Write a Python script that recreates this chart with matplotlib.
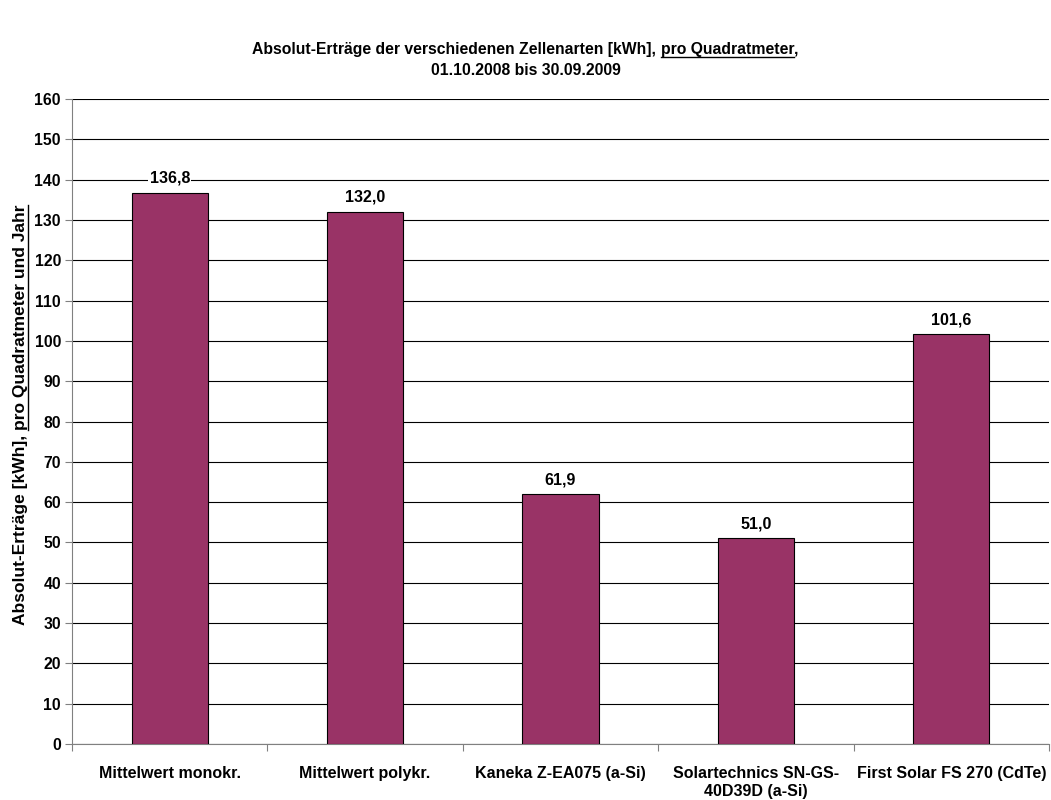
import matplotlib
matplotlib.use("Agg")
import matplotlib.pyplot as plt
import numpy as np
from matplotlib.lines import Line2D

# data
categories = ["Mittelwert monokr.", "Mittelwert polykr.", "Kaneka Z-EA075 (a-Si)",
              "Solartechnics SN-GS-\n40D39D (a-Si)", "First Solar FS 270 (CdTe)"]
values = [136.8, 132.0, 61.9, 51.0, 101.6]
labels = ["136,8", "132,0", "61,9", "51,0", "101,6"]
yticks = list(range(0, 161, 10))

title_parts = ["Absolut-Erträge der verschiedenen Zellenarten [kWh], ", "pro Quadratmeter", ","]
title_line2 = "01.10.2008 bis 30.09.2009"
ylabel_parts = ["Absolut-Erträge [kWh], ", "pro Quadratmeter und Jahr"]

plt.rcParams['font.family'] = ['Liberation Sans', 'DejaVu Sans']
plt.rcParams['font.weight'] = 'bold'
plt.rcParams['font.size'] = 11.3

W, H = 1051, 800
fig = plt.figure(figsize=(W / 100, H / 100), dpi=100)
ax = fig.add_axes([72 / W, 1 - 744 / H, (1049 - 72) / W, (744 - 99) / H])

x = np.arange(len(categories))
ax.bar(x, values, width=0.39, color="#993366", edgecolor="black", linewidth=0.8, zorder=3)
for xi, v, lab in zip(x, values, labels):
    ax.annotate(lab, (xi, v), xytext=(0, 5), textcoords="offset points",
                ha="center", va="bottom", fontweight="bold", fontsize=11.5,
                bbox=dict(facecolor="white", edgecolor="none", pad=1), zorder=4)

ax.set_xlim(-0.5, len(categories) - 0.5)
ax.set_ylim(0, 160)
ax.set_yticks(yticks)
ax.yaxis.grid(True, color="black", linewidth=0.8, zorder=0)
ax.set_axisbelow(True)

# category ticks between groups, labels centered
ax.set_xticks(np.arange(len(categories) + 1) - 0.5)
ax.set_xticklabels([])
ax.set_xticks(x, minor=True)
ax.set_xticklabels(categories, minor=True, fontweight="bold", fontsize=11.5)
ax.tick_params(axis="x", which="minor", length=0, pad=16)
ax.tick_params(axis="x", which="major", length=5, color="#808080", direction="out")
ax.tick_params(axis="y", length=5, color="#808080", direction="out", pad=3, labelsize=11.3)
for lab in ax.get_yticklabels():
    lab.set_fontweight("bold")

ax.spines["top"].set_visible(False)
ax.spines["right"].set_visible(False)
ax.spines["left"].set_color("#808080")
ax.spines["bottom"].set_color("#808080")

fig.canvas.draw()
renderer = fig.canvas.get_renderer()


def px(t):
    return t.get_window_extent(renderer)


# title line 1 with underlined piece
texts = [fig.text(0, 0, p, transform=None, fontweight="bold", fontsize=11.3,
                  ha="left", va="baseline") for p in title_parts]
widths = [px(t).width for t in texts]
x0 = W / 2 - sum(widths) / 2
base_y = H - 54
for t, w in zip(texts, widths):
    t.set_position((x0, base_y))
    x0 += w
bb = px(texts[1])
fig.add_artist(Line2D([bb.x0, bb.x1], [base_y - 2.5, base_y - 2.5], transform=None,
                      color="black", linewidth=1))
fig.text(W / 2, H - 75, title_line2, transform=None, fontweight="bold", fontsize=11.3,
         ha="center", va="baseline")

# y label rotated with underlined piece
ytexts = [fig.text(0, 0, p, transform=None, fontweight="bold", fontsize=12.5,
                   rotation=90, ha="left", va="baseline", rotation_mode="anchor") for p in ylabel_parts]
heights = [px(t).height for t in ytexts]
y0 = H - 415 - sum(heights) / 2
base_x = 25
for t, h in zip(ytexts, heights):
    t.set_position((base_x, y0))
    y0 += h
bb = px(ytexts[1])
fig.add_artist(Line2D([base_x + 2.5, base_x + 2.5], [bb.y0, bb.y1], transform=None,
                      color="black", linewidth=1))

fig.savefig("out.png", dpi=100)
